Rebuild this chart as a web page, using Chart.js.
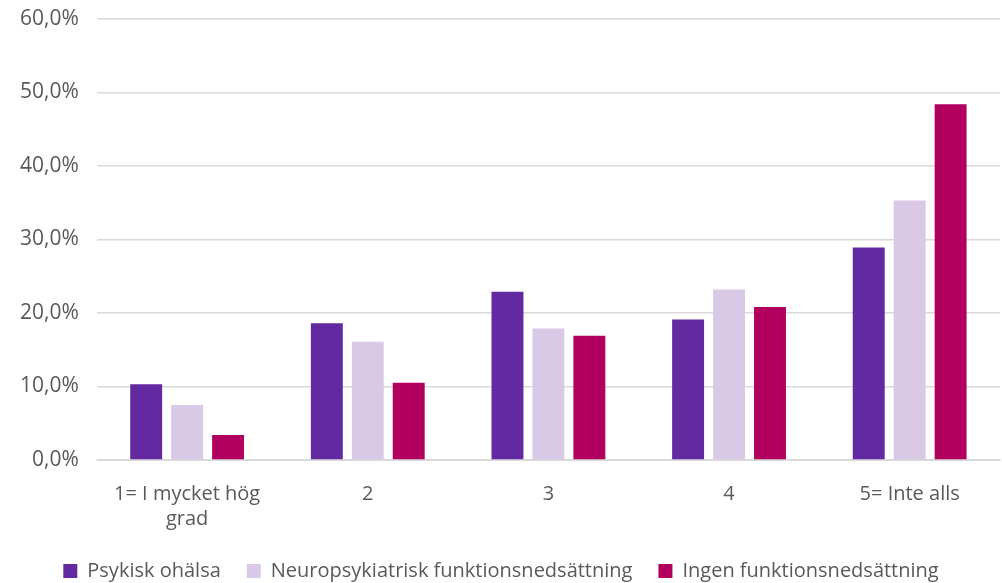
<!DOCTYPE html>
<html>
<head>
<meta charset="utf-8">
<script src="https://cdn.jsdelivr.net/npm/chart.js@4/dist/chart.umd.min.js"></script>
<style>
  html, body { margin: 0; padding: 0; background: #fff; }
  #wrap { width: 1002px; height: 583px; position: relative; }
</style>
</head>
<body>
<div id="wrap"><canvas id="bars"></canvas></div>
<script>
var categories = [["1= I mycket hög", "grad"], "2", "3", "4", "5= Inte alls"];
var psykisk = [10.3, 18.6, 22.9, 19.1, 28.9];
var neuro = [7.5, 16.1, 17.9, 23.2, 35.3];
var ingen = [3.4, 10.5, 16.9, 20.8, 48.4];
var seriesNames = ["Psykisk ohälsa", "Neuropsykiatrisk funktionsnedsättning", "Ingen funktionsnedsättning"];
var yTicks = [0, 10, 20, 30, 40, 50, 60];

Chart.defaults.font.family = "'Open Sans', 'Liberation Sans', sans-serif";
Chart.defaults.color = "#595959";

var ctx = document.getElementById("bars").getContext("2d");

var myChart = new Chart(ctx, {
    type: 'bar',
    data: {
        labels: categories,
        datasets: [
            { label: seriesNames[0], data: psykisk, backgroundColor: "#6229A0" },
            { label: seriesNames[1], data: neuro, backgroundColor: "#D9C9E6" },
            { label: seriesNames[2], data: ingen, backgroundColor: "#B2005F" }
        ]
    },
    options: {
        responsive: true,
        maintainAspectRatio: false,
        animation: false,
        layout: { padding: { left: 2, right: 2, top: 19, bottom: -8 } },
        datasets: {
            bar: { categoryPercentage: 0.68, barPercentage: 0.78 }
        },
        scales: {
            x: {
                grid: { display: false },
                border: { color: "#d9d9d9" },
                ticks: { font: { size: 20, lineHeight: 1.25 }, color: "#595959", padding: 14, maxRotation: 0 },
                afterFit: function(axis) {
                    axis.height = axis.height - 11;
                }
            },
            y: {
                min: 0,
                max: 60,
                afterBuildTicks: function(axis) {
                    axis.ticks = yTicks.map(function(v) { return { value: v }; });
                },
                afterFit: function(axis) {
                    axis.paddingTop = 0;
                },
                grid: { color: "#d9d9d9", lineWidth: 1.5, drawTicks: false },
                border: { display: false },
                ticks: {
                    font: { size: 21 },
                    color: "#595959",
                    padding: 18,
                    callback: function(v) { return v.toFixed(1).replace('.', ',') + '%'; }
                }
            }
        },
        plugins: {
            legend: {
                position: 'bottom',
                labels: {
                    boxWidth: 14,
                    boxHeight: 14,
                    padding: 26,
                    font: { size: 20 },
                    color: "#595959"
                }
            },
            tooltip: { enabled: false }
        }
    }
});
</script>
</body>
</html>
